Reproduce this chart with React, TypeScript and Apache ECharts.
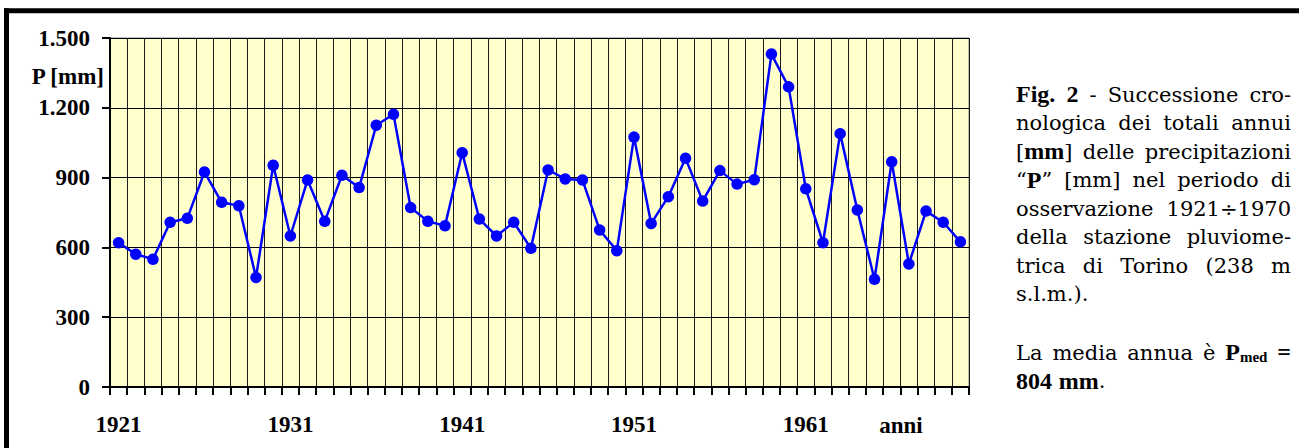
import React, { useEffect, useRef } from "react";
import * as echarts from "echarts";

const years = [
  "1921", "1922", "1923", "1924", "1925", "1926", "1927", "1928", "1929", "1930",
  "1931", "1932", "1933", "1934", "1935", "1936", "1937", "1938", "1939", "1940",
  "1941", "1942", "1943", "1944", "1945", "1946", "1947", "1948", "1949", "1950",
  "1951", "1952", "1953", "1954", "1955", "1956", "1957", "1958", "1959", "1960",
  "1961", "1962", "1963", "1964", "1965", "1966", "1967", "1968", "1969", "1970",
];

const precipitation = [
  620, 571, 549, 708, 725, 924, 794, 779, 471, 953,
  649, 890, 712, 910, 857, 1125, 1172, 771, 712, 693,
  1007, 722, 649, 708, 596, 933, 894, 890, 675, 586,
  1074, 703, 818, 983, 799, 930, 872, 891, 1431, 1290,
  852, 620, 1089, 761, 463, 968, 529, 756, 708, 624,
];

const labeledYears = ["1921", "1931", "1941", "1951", "1961"];
const yAxisTitle = "P [mm]";
const xAxisTitle = "anni";

type Run = { t: string; s: "r" | "b" | "sub" };
const r = (t: string): Run => ({ t, s: "r" });
const b = (t: string): Run => ({ t, s: "b" });
const sub = (t: string): Run => ({ t, s: "sub" });
const w = (t: string): Run[] => [r(t)];

const captionLines: { words: Run[][]; justify: boolean }[] = [
  { words: [[b("Fig.")], [b("2")], [r("-")], [r("Successione")], [r("cro-")]], justify: true },
  { words: [w("nologica"), w("dei"), w("totali"), w("annui")], justify: true },
  { words: [[r("["), b("mm"), r("]")], w("delle"), w("precipitazioni")], justify: true },
  { words: [[r("“"), b("P"), r("”")], w("[mm]"), w("nel"), w("periodo"), w("di")], justify: true },
  { words: [w("osservazione"), w("1921÷1970")], justify: true },
  { words: [w("della"), w("stazione"), w("pluviome-")], justify: true },
  { words: [w("trica"), w("di"), w("Torino"), w("(238"), w("m")], justify: true },
  { words: [w("s.l.m.).")], justify: false },
  { words: [w("La"), w("media"), w("annua"), w("è"), [b("P"), sub("med")], [b("=")]], justify: true },
  { words: [[b("804")], [b("mm"), r(".")]], justify: false },
];

const FONT = "'Liberation Serif', 'DejaVu Serif', serif";
const FONT_REGULAR = "'DejaVu Serif', serif";
const CAP_SIZE = 24;
const REG_SIZE = 21;
const SUB_SIZE = 15;
const AXIS_SIZE = 23;

export default function App() {
  const ref = useRef<HTMLDivElement>(null);

  useEffect(() => {
    document.body.style.margin = "0";
    const chart = echarts.init(ref.current!, null, { renderer: "svg" });

    const canvas = document.createElement("canvas");
    const ctx = canvas.getContext("2d")!;
    const fontOf = (s: Run["s"]) =>
      s === "sub"
        ? `bold ${SUB_SIZE}px ${FONT}`
        : s === "b"
        ? `bold ${CAP_SIZE}px ${FONT}`
        : `${REG_SIZE}px ${FONT_REGULAR}`;
    const runWidth = (run: Run) => {
      ctx.font = fontOf(run.s);
      return ctx.measureText(run.t).width;
    };
    ctx.font = fontOf("r");
    const spaceWidth = ctx.measureText(" ").width;

    const textLeft = 1016;
    const textRight = 1291;
    const lineMids = [94, 122.5, 151, 179.5, 208, 236.5, 265, 293.5, 352, 380.5];

    const captionElems: any[] = [];
    captionLines.forEach((line, li) => {
      const words = line.words;
      const widths = words.map((wd) => wd.reduce((s, run) => s + runWidth(run), 0));
      const total = widths.reduce((s, v) => s + v, 0);
      const gap =
        line.justify && words.length > 1
          ? (textRight - textLeft - total) / (words.length - 1)
          : spaceWidth;
      let x = textLeft;
      words.forEach((wd, wi) => {
        let offset = 0;
        wd.forEach((run) => {
          captionElems.push({
            type: "text",
            x: x + offset,
            y: lineMids[li] + (run.s === "sub" ? 5 : run.s === "r" ? 0.8 : 0),
            style: {
              text: run.t,
              align: "left",
              verticalAlign: "middle",
              fill: "#000",
              font: fontOf(run.s),
            },
          });
          offset += runWidth(run);
        });
        x += widths[wi] + gap;
      });
    });

    const option: any = {
      animation: false,
      backgroundColor: "#ffffff",
      grid: {
        left: 110,
        top: 38,
        right: 330,
        bottom: 61,
        show: true,
        backgroundColor: "#FFFFCC",
        borderColor: "#808080",
        borderWidth: 1,
      },
      xAxis: {
        type: "category",
        data: years,
        boundaryGap: true,
        axisLine: { show: true, lineStyle: { color: "#000", width: 2 } },
        axisTick: { show: true, interval: 0, length: 8, lineStyle: { color: "#000", width: 2 } },
        axisLabel: {
          interval: 0,
          margin: 26,
          fontFamily: FONT,
          fontWeight: "bold",
          fontSize: AXIS_SIZE,
          color: "#000",
          formatter: (v: string) => (labeledYears.includes(v) ? v : ""),
        },
        splitLine: { show: true, interval: 0, lineStyle: { color: "#1a1a1a", width: 1 } },
      },
      yAxis: {
        type: "value",
        min: 0,
        max: 1500,
        interval: 300,
        axisLine: { show: true, lineStyle: { color: "#000", width: 2 } },
        axisTick: { show: true, length: 8, lineStyle: { color: "#000", width: 2 } },
        axisLabel: {
          margin: 20,
          fontFamily: FONT,
          fontWeight: "bold",
          fontSize: AXIS_SIZE,
          color: "#000",
          formatter: (v: number) => String(v).replace(/\B(?=(\d{3})+(?!\d))/g, "."),
        },
        splitLine: { show: true, lineStyle: { color: "#000", width: 1 } },
      },
      series: [
        {
          type: "line",
          data: precipitation,
          color: "#0000FF",
          lineStyle: { color: "#0000FF", width: 2.5 },
          itemStyle: { color: "#0000FF" },
          symbol: "circle",
          symbolSize: 11.5,
          showSymbol: true,
          z: 5,
        },
      ],
      graphic: [
        {
          type: "line",
          shape: { x1: 4, y1: 10.8, x2: 1299, y2: 10.8 },
          style: { stroke: "#000", lineWidth: 5 },
        },
        {
          type: "line",
          shape: { x1: 6.5, y1: 8.3, x2: 6.5, y2: 448 },
          style: { stroke: "#000", lineWidth: 5 },
        },
        {
          type: "text",
          x: 104,
          y: 76,
          style: {
            text: yAxisTitle,
            align: "right",
            verticalAlign: "middle",
            font: `bold ${AXIS_SIZE}px ${FONT}`,
            fill: "#000",
          },
        },
        {
          type: "text",
          x: 901,
          y: 425,
          style: {
            text: xAxisTitle,
            align: "center",
            verticalAlign: "middle",
            font: `bold ${AXIS_SIZE}px ${FONT}`,
            fill: "#000",
          },
        },
        ...captionElems,
      ],
    };

    chart.setOption(option);
    return () => chart.dispose();
  }, []);

  return <div ref={ref} style={{ width: 1299, height: 448 }} />;
}
